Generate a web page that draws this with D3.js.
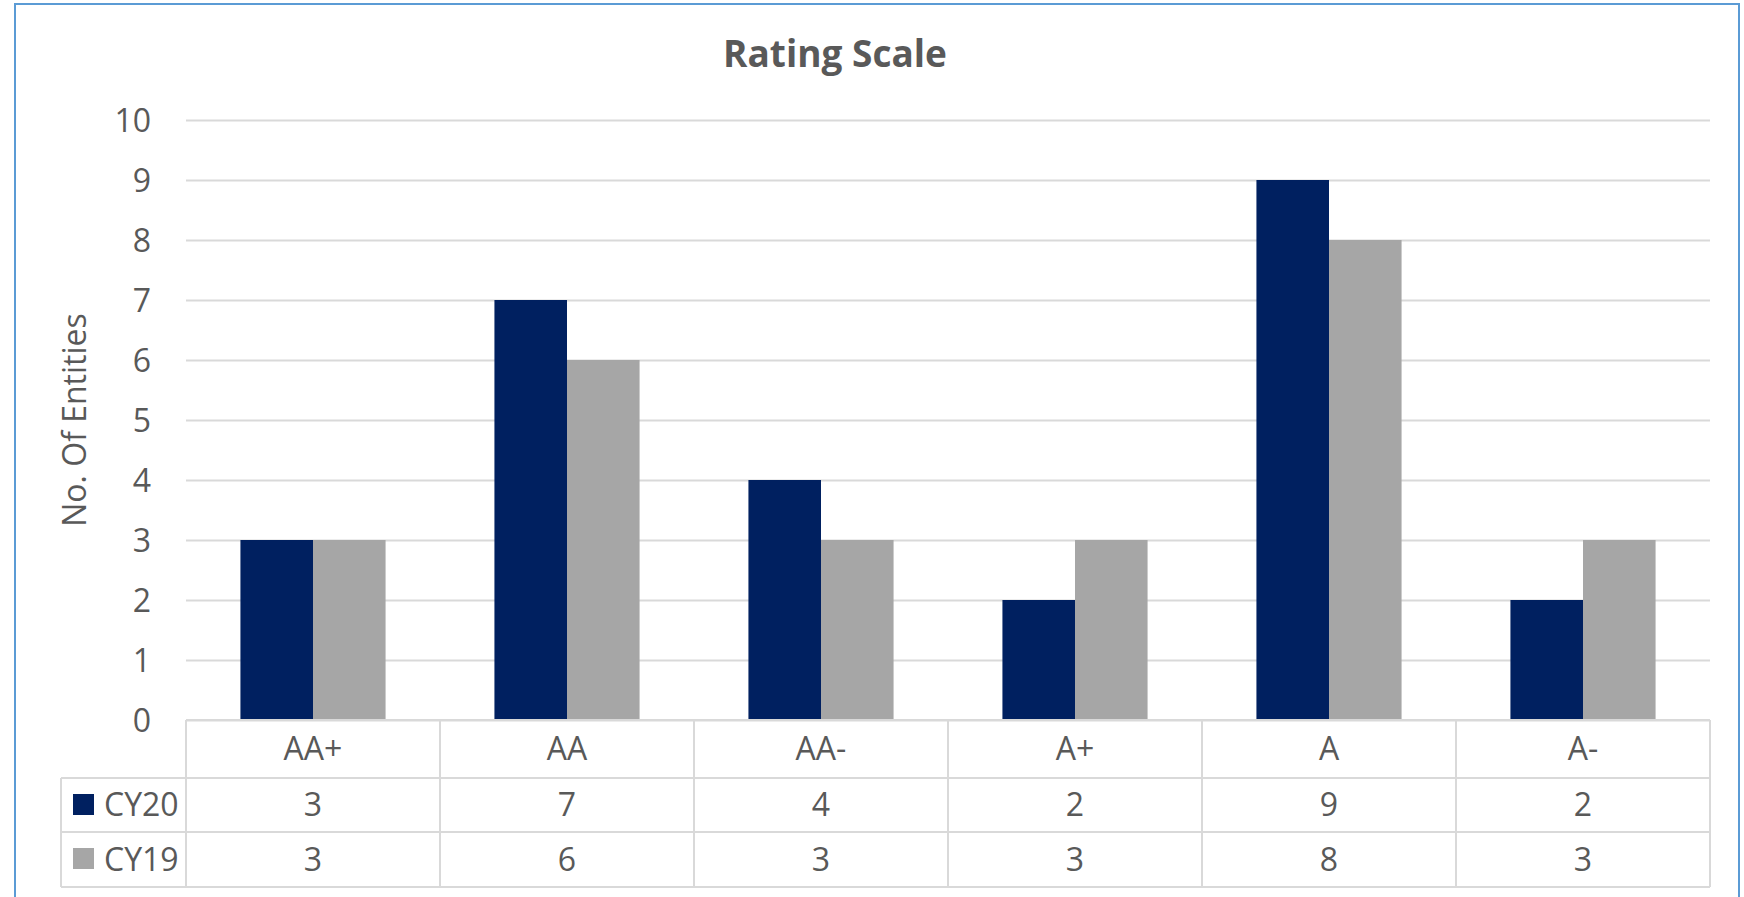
<!DOCTYPE html>
<html>
<head>
<meta charset="utf-8">
<script src="https://cdn.jsdelivr.net/npm/d3@7"></script>
<style>
  body { margin: 0; background: #fff; }
  text { font-family: "Open Sans", sans-serif; fill: #595959; }
</style>
</head>
<body>
<div id="chart"></div>
<script>
// chart data
var categories = ["AA+", "AA", "AA-", "A+", "A", "A-"];
var seriesNames = ["CY20", "CY19"];
var cy20 = [3, 7, 4, 2, 9, 2];
var cy19 = [3, 6, 3, 3, 8, 3];
var yTicks = [0, 1, 2, 3, 4, 5, 6, 7, 8, 9, 10];
var colors = {"CY20": "#002060", "CY19": "#a6a6a6"};

var width = 1744, height = 897;
// plot area (note: "top" is reserved on window, so use plot* names)
var plotLeft = 186, plotRight = 1710, plotTop = 120, plotBottom = 720;
var rowH = [720, 778, 832, 887]; // table row lines
var legendLeft = 61;
var gridColor = "#d9d9d9";

var values = {"CY20": cy20, "CY19": cy19};

var svg = d3.select("#chart")
    .append("svg")
    .attr("width", width)
    .attr("height", height);

// outer chart border
svg.append("rect")
    .attr("x", 15)
    .attr("y", 4)
    .attr("width", 1724)
    .attr("height", 920)
    .attr("fill", "none")
    .attr("stroke", "#5b9bd5")
    .attr("stroke-width", 2);

var x = d3.scaleBand()
    .domain(categories)
    .range([plotLeft, plotRight]);

var x1 = d3.scaleBand()
    .domain(seriesNames)
    .range([0, x.bandwidth()])
    .paddingInner(0)
    .paddingOuter(0.75);

var y = d3.scaleLinear()
    .domain([0, 10])
    .range([plotBottom, plotTop]);

// title
svg.append("text")
    .attr("x", 835)
    .attr("y", 67)
    .attr("text-anchor", "middle")
    .style("font-size", "37px")
    .style("font-weight", "bold")
    .text("Rating Scale");

// y axis with gridlines
var yAxis = svg.append("g")
    .attr("transform", "translate(" + plotLeft + ",0)")
    .call(d3.axisLeft(y)
        .tickValues(yTicks)
        .tickSize(-(plotRight - plotLeft))
        .tickPadding(35));

yAxis.select(".domain").remove();
yAxis.selectAll("line")
    .attr("stroke", gridColor)
    .attr("stroke-width", 2);
yAxis.selectAll("text")
    .attr("dy", "0.35em")
    .style("font-size", "32px")
    .style("font-family", "'Open Sans', sans-serif")
    .attr("fill", "#595959");

// y axis title
svg.append("text")
    .attr("transform", "translate(86," + ((plotTop + plotBottom) / 2) + ") rotate(-90)")
    .attr("text-anchor", "middle")
    .style("font-size", "32px")
    .text("No. Of Entities");

// bars
var group = svg.selectAll(".cat")
    .data(categories)
    .enter()
    .append("g")
    .attr("class", "cat")
    .attr("transform", function (d) {
        return "translate(" + x(d) + ",0)";
    });

group.selectAll("rect")
    .data(function (d, i) {
        return seriesNames.map(function (s) {
            return {series: s, value: values[s][i]};
        });
    })
    .enter()
    .append("rect")
    .attr("x", function (d) { return x1(d.series); })
    .attr("y", function (d) { return y(d.value); })
    .attr("width", x1.bandwidth())
    .attr("height", function (d) { return y(0) - y(d.value); })
    .attr("fill", function (d) { return colors[d.series]; });

// data table lines
var table = svg.append("g")
    .attr("stroke", gridColor)
    .attr("stroke-width", 2);

rowH.forEach(function (h, i) {
    table.append("line")
        .attr("x1", i == 0 ? plotLeft : legendLeft)
        .attr("x2", plotRight)
        .attr("y1", h)
        .attr("y2", h);
});

table.append("line")
    .attr("x1", legendLeft).attr("x2", legendLeft)
    .attr("y1", rowH[1]).attr("y2", rowH[3]);

categories.concat([null]).forEach(function (c) {
    var xx = c == null ? plotRight : x(c);
    table.append("line")
        .attr("x1", xx).attr("x2", xx)
        .attr("y1", rowH[0]).attr("y2", rowH[3]);
});

// category labels row
svg.selectAll(".catLabel")
    .data(categories)
    .enter()
    .append("text")
    .attr("class", "catLabel")
    .attr("x", function (d) { return x(d) + x.bandwidth() / 2; })
    .attr("y", 760)
    .attr("text-anchor", "middle")
    .style("font-size", "32px")
    .text(function (d) { return d; });

// value rows with legend keys
var baselines = [816, 871];
seriesNames.forEach(function (s, si) {
    var rowTop = rowH[si + 1];
    svg.append("rect")
        .attr("x", 73)
        .attr("y", rowTop + 16)
        .attr("width", 21)
        .attr("height", 21)
        .attr("fill", colors[s]);

    svg.append("text")
        .attr("x", 104)
        .attr("y", baselines[si])
        .style("font-size", "32px")
        .text(s);

    svg.selectAll(".val" + s)
        .data(values[s])
        .enter()
        .append("text")
        .attr("x", function (d, i) { return x(categories[i]) + x.bandwidth() / 2; })
        .attr("y", baselines[si])
        .attr("text-anchor", "middle")
        .style("font-size", "32px")
        .text(function (d) { return d; });
});
</script>
</body>
</html>
